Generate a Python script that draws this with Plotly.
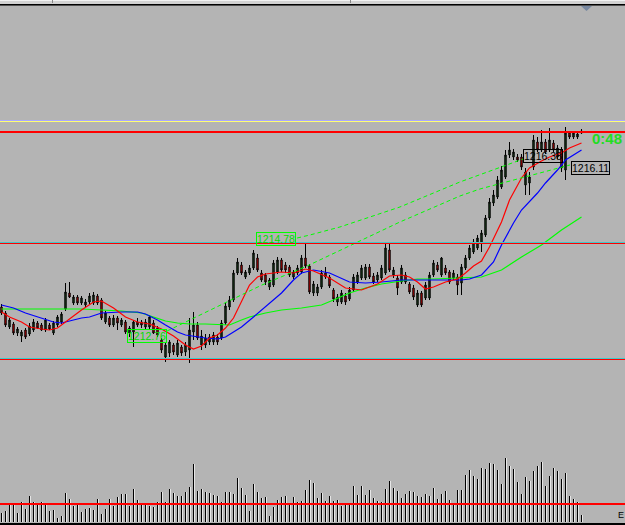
import plotly.graph_objects as go

W, H = 625, 525
BG = '#b4b4b4'

# ---------------- data ----------------
bar_index = list(range(146))

opens = [1213.36, 1213.24, 1212.96, 1213.02, 1212.84, 1212.78, 1212.90, 1212.82, 1212.90, 1213.04,
         1213.00, 1212.90, 1213.00, 1212.84, 1213.00, 1213.06, 1213.32, 1213.64, 1213.44, 1213.56,
         1213.44, 1213.40, 1213.46, 1213.44, 1213.58, 1213.50, 1213.06, 1213.14, 1213.00, 1213.14,
         1213.00, 1213.06, 1212.84, 1212.86, 1213.06, 1213.06, 1212.96, 1212.96, 1213.04, 1212.94,
         1212.70, 1212.36, 1212.44, 1212.60, 1212.40, 1212.56, 1212.46, 1212.50, 1212.86, 1213.00,
         1212.60, 1212.60, 1212.66, 1212.66, 1212.76, 1212.74, 1213.04, 1213.36, 1213.50, 1214.04,
         1214.20, 1213.96, 1214.04, 1214.14, 1214.34, 1214.04, 1214.00, 1213.76, 1213.80, 1214.06,
         1214.30, 1214.20, 1214.16, 1213.96, 1214.04, 1214.06, 1214.34, 1214.18, 1213.64, 1213.64,
         1213.76, 1214.04, 1213.96, 1213.70, 1213.46, 1213.46, 1213.58, 1213.52, 1213.70, 1213.86,
         1213.94, 1213.94, 1214.16, 1213.98, 1213.90, 1213.94, 1214.04, 1214.50, 1214.00, 1213.94,
         1213.86, 1214.00, 1213.82, 1213.74, 1213.40, 1213.64, 1213.54, 1213.54, 1214.00, 1214.20,
         1214.00, 1214.14, 1214.06, 1213.94, 1213.96, 1213.84, 1214.14, 1214.34, 1214.46, 1214.54,
         1214.64, 1214.80, 1215.14, 1215.44, 1215.56, 1215.76, 1215.96, 1216.40, 1216.36, 1216.36,
         1216.36, 1215.80, 1215.84, 1216.16, 1216.66, 1216.50, 1216.66, 1216.50, 1216.64, 1216.36,
         1216.50, 1216.10, 1216.84, 1216.76, 1216.76, 1216.84]

highs = [1213.42, 1213.28, 1213.14, 1213.06, 1212.96, 1212.90, 1212.94, 1213.04, 1213.12, 1213.08,
         1213.04, 1213.14, 1213.04, 1213.08, 1213.20, 1213.26, 1213.84, 1213.86, 1213.60, 1213.60,
         1213.58, 1213.52, 1213.64, 1213.66, 1213.62, 1213.54, 1213.28, 1213.18, 1213.20, 1213.18,
         1213.14, 1213.10, 1212.98, 1213.10, 1213.14, 1213.10, 1213.12, 1213.20, 1213.10, 1212.98,
         1212.74, 1212.64, 1212.70, 1212.64, 1212.70, 1212.60, 1212.66, 1213.14, 1213.26, 1213.06,
         1212.90, 1212.82, 1212.82, 1212.86, 1212.82, 1213.10, 1213.44, 1213.58, 1214.10, 1214.34,
         1214.26, 1214.10, 1214.20, 1214.50, 1214.42, 1214.10, 1214.04, 1213.94, 1214.30, 1214.36,
         1214.34, 1214.26, 1214.20, 1214.10, 1214.20, 1214.40, 1214.64, 1214.22, 1213.88, 1213.82,
         1214.10, 1214.16, 1214.00, 1213.74, 1213.62, 1213.70, 1213.64, 1213.76, 1214.02, 1214.06,
         1214.20, 1214.22, 1214.22, 1214.04, 1214.06, 1214.20, 1214.66, 1214.64, 1214.16, 1214.00,
         1214.20, 1214.06, 1213.86, 1213.80, 1213.70, 1213.68, 1213.86, 1214.06, 1214.30, 1214.26,
         1214.36, 1214.20, 1214.10, 1214.10, 1214.02, 1214.22, 1214.40, 1214.60, 1214.72, 1214.80,
         1214.90, 1215.20, 1215.54, 1215.70, 1215.98, 1216.18, 1216.50, 1216.66, 1216.52, 1216.42,
         1216.42, 1216.14, 1216.06, 1216.80, 1216.76, 1216.90, 1216.72, 1216.94, 1216.70, 1216.60,
         1216.56, 1216.96, 1216.88, 1216.88, 1216.88, 1216.92]

lows = [1213.20, 1212.96, 1212.92, 1212.80, 1212.78, 1212.66, 1212.72, 1212.78, 1212.86, 1212.92,
        1212.88, 1212.86, 1212.90, 1212.80, 1212.96, 1213.02, 1213.28, 1213.54, 1213.40, 1213.40,
        1213.40, 1213.36, 1213.42, 1213.40, 1213.40, 1213.10, 1213.02, 1212.96, 1212.96, 1212.90,
        1212.96, 1212.82, 1212.76, 1212.56, 1212.96, 1212.94, 1212.92, 1212.90, 1212.82, 1212.76,
        1212.44, 1212.26, 1212.36, 1212.40, 1212.36, 1212.38, 1212.38, 1212.24, 1212.70, 1212.70,
        1212.50, 1212.54, 1212.60, 1212.60, 1212.60, 1212.70, 1213.00, 1213.30, 1213.46, 1214.00,
        1214.00, 1213.92, 1214.00, 1214.10, 1214.06, 1213.86, 1213.80, 1213.70, 1213.76, 1214.02,
        1214.06, 1214.04, 1213.96, 1213.92, 1214.00, 1214.02, 1214.14, 1213.62, 1213.58, 1213.58,
        1213.72, 1213.92, 1213.74, 1213.46, 1213.38, 1213.42, 1213.40, 1213.48, 1213.66, 1213.82,
        1213.90, 1213.90, 1213.92, 1213.82, 1213.86, 1213.90, 1214.00, 1214.06, 1213.94, 1213.60,
        1213.82, 1213.82, 1213.62, 1213.50, 1213.36, 1213.36, 1213.50, 1213.50, 1213.96, 1214.06,
        1213.96, 1214.00, 1213.82, 1213.90, 1213.60, 1213.60, 1214.10, 1214.30, 1214.42, 1214.50,
        1214.46, 1214.76, 1215.10, 1215.38, 1215.52, 1215.72, 1215.92, 1216.34, 1216.30, 1216.26,
        1216.10, 1215.60, 1215.60, 1216.10, 1216.46, 1216.46, 1216.42, 1216.46, 1216.46, 1216.32,
        1216.06, 1215.90, 1216.72, 1216.72, 1216.72, 1216.82]

closes = [1213.24, 1213.00, 1213.10, 1212.84, 1212.92, 1212.86, 1212.76, 1212.98, 1213.06, 1212.94,
          1212.90, 1213.10, 1212.92, 1213.04, 1213.16, 1213.22, 1213.66, 1213.56, 1213.56, 1213.44,
          1213.54, 1213.46, 1213.58, 1213.60, 1213.44, 1213.14, 1213.24, 1213.00, 1213.14, 1213.04,
          1213.10, 1212.86, 1212.94, 1213.06, 1213.00, 1213.00, 1213.06, 1213.16, 1212.84, 1212.80,
          1212.50, 1212.60, 1212.66, 1212.46, 1212.64, 1212.44, 1212.60, 1212.90, 1213.00, 1212.74,
          1212.78, 1212.74, 1212.76, 1212.80, 1212.66, 1213.04, 1213.38, 1213.50, 1214.04, 1214.26,
          1214.04, 1214.06, 1214.14, 1214.44, 1214.10, 1213.90, 1213.86, 1213.90, 1214.24, 1214.30,
          1214.10, 1214.10, 1214.00, 1214.06, 1214.14, 1214.34, 1214.18, 1213.66, 1213.82, 1213.76,
          1214.04, 1213.96, 1213.78, 1213.52, 1213.56, 1213.64, 1213.46, 1213.70, 1213.96, 1214.00,
          1214.14, 1214.16, 1213.96, 1213.86, 1214.00, 1214.14, 1214.54, 1214.10, 1214.10, 1213.74,
          1214.14, 1213.86, 1213.66, 1213.56, 1213.64, 1213.40, 1213.80, 1214.00, 1214.24, 1214.10,
          1214.34, 1214.04, 1213.86, 1214.04, 1213.80, 1214.16, 1214.34, 1214.54, 1214.66, 1214.74,
          1214.84, 1215.14, 1215.46, 1215.60, 1215.90, 1216.10, 1216.40, 1216.50, 1216.46, 1216.30,
          1216.16, 1216.06, 1215.96, 1216.70, 1216.50, 1216.66, 1216.46, 1216.70, 1216.50, 1216.54,
          1216.14, 1216.84, 1216.76, 1216.84, 1216.82, 1216.88]

volumes = [19, 23, 39, 36, 19, 41, 27, 53, 40, 36, 40, 36, 23, 24, 9, 13, 59, 47, 33, 35,
           20, 26, 29, 25, 47, 16, 26, 47, 33, 50, 57, 57, 32, 66, 45, 36, 36, 33, 31, 41,
           61, 41, 66, 59, 53, 53, 60, 70, 116, 63, 67, 60, 59, 55, 53, 41, 60, 60, 56, 88,
           69, 55, 22, 77, 60, 48, 50, 13, 30, 45, 51, 53, 36, 51, 41, 43, 64, 84, 79, 49,
           59, 43, 53, 43, 45, 32, 37, 35, 72, 55, 72, 55, 64, 49, 43, 41, 67, 82, 68, 63,
           49, 56, 62, 61, 53, 51, 57, 53, 68, 47, 57, 62, 45, 37, 64, 64, 94, 104, 92, 87,
           109, 107, 119, 117, 105, 77, 129, 113, 107, 80, 57, 91, 82, 103, 113, 121, 73, 92, 109, 103,
           87, 98, 53, 47, 40, 14]

ma_red_x = [0, 2, 5, 7, 10, 12, 14, 16, 18, 20, 23, 25, 28, 31, 34, 37, 40, 43, 46, 48, 50, 52, 54, 56,
            58, 60, 62, 64, 66, 70, 73, 76, 78, 82, 86, 90, 94, 97, 100, 102, 104, 106, 108, 111, 114,
            116, 118, 120, 122, 125, 127, 130, 132, 135, 137, 140, 142, 145]
ma_red = [1213.26, 1213.16, 1213.06, 1212.96, 1212.92, 1212.90, 1212.94, 1213.06, 1213.18, 1213.30,
          1213.46, 1213.48, 1213.34, 1213.16, 1213.06, 1213.02, 1212.92, 1212.78, 1212.60, 1212.52,
          1212.58, 1212.74, 1212.80, 1212.94, 1213.14, 1213.46, 1213.80, 1213.96, 1214.02, 1214.06,
          1214.04, 1214.12, 1214.08, 1213.94, 1213.74, 1213.70, 1213.82, 1213.98, 1214.00, 1213.96,
          1213.86, 1213.72, 1213.76, 1213.86, 1213.92, 1214.04, 1214.18, 1214.28, 1214.56, 1215.06,
          1215.50, 1215.94, 1216.14, 1216.28, 1216.36, 1216.44, 1216.54, 1216.64]

ma_blue_x = [0, 3, 6, 10, 13, 15, 17, 20, 22, 25, 30, 34, 36, 39, 41, 44, 46, 49, 51, 54, 56, 58, 60,
             63, 66, 70, 73, 75, 78, 82, 87, 91, 95, 100, 108, 115, 117, 120, 123, 125, 128, 130, 134,
             136, 139, 141, 145]
ma_blue = [1213.40, 1213.34, 1213.24, 1213.14, 1213.06, 1213.04, 1213.08, 1213.14, 1213.16, 1213.24,
           1213.26, 1213.26, 1213.22, 1213.10, 1213.00, 1212.86, 1212.80, 1212.76, 1212.74, 1212.72,
           1212.76, 1212.86, 1212.96, 1213.16, 1213.36, 1213.64, 1213.90, 1214.04, 1214.10, 1214.04,
           1213.86, 1213.84, 1213.86, 1213.90, 1213.90, 1213.90, 1213.92, 1214.00, 1214.26, 1214.60,
           1215.04, 1215.30, 1215.64, 1215.84, 1216.10, 1216.30, 1216.50]

ma_green_x = [0, 10, 20, 25, 30, 35, 38, 41, 44, 47, 51, 55, 57, 60, 62, 66, 70, 75, 80, 83, 87, 91,
              95, 100, 104, 108, 116, 120, 125, 130, 135, 140, 145]
ma_green = [1213.32, 1213.32, 1213.32, 1213.30, 1213.28, 1213.24, 1213.16, 1213.08, 1213.04, 1213.02,
            1213.02, 1213.00, 1213.00, 1213.10, 1213.16, 1213.24, 1213.30, 1213.34, 1213.40, 1213.50,
            1213.64, 1213.74, 1213.82, 1213.88, 1213.92, 1213.92, 1213.94, 1213.96, 1214.10, 1214.36,
            1214.60, 1214.90, 1215.16]

trend_a_x = [73.9, 77.1, 84.6, 99.6, 114.6, 130.4]
trend_a = [1214.74, 1214.80, 1214.96, 1215.36, 1215.86, 1216.32]
trend_b_x = [41.4, 49.6, 65.1, 76.4, 99.6, 114.6, 119.6, 142.1]
trend_b = [1212.88, 1213.20, 1213.80, 1214.18, 1215.06, 1215.58, 1215.72, 1216.20]

label_texts = ['1214.78', '1212.76', '1216.38', '1216.11']
timer_text = '0:48'

# ---------------- figure ----------------
def px(x):
    return x / W


def py(y):
    return 1 - y / H


fig = go.Figure()

fig.add_trace(go.Scatter(x=ma_green_x, y=ma_green, mode='lines',
                         line=dict(color='#00ff00', width=1.2), hoverinfo='skip'))
fig.add_trace(go.Scatter(x=ma_blue_x, y=ma_blue, mode='lines',
                         line=dict(color='#0000ff', width=1.2), hoverinfo='skip'))
fig.add_trace(go.Scatter(x=ma_red_x, y=ma_red, mode='lines',
                         line=dict(color='#ff0000', width=1.2), hoverinfo='skip'))
fig.add_trace(go.Scatter(x=trend_a_x, y=trend_a, mode='lines',
                         line=dict(color='#00ff00', width=1, dash='4px,3px'), hoverinfo='skip'))
fig.add_trace(go.Scatter(x=trend_b_x, y=trend_b, mode='lines',
                         line=dict(color='#00ff00', width=1, dash='4px,3px'), hoverinfo='skip'))

fig.add_trace(go.Candlestick(
    x=bar_index, open=opens, high=highs, low=lows, close=closes,
    increasing=dict(line=dict(color='#000000', width=1), fillcolor='#1f4a1f'),
    decreasing=dict(line=dict(color='#000000', width=1), fillcolor='#ff0000'),
    whiskerwidth=0, hoverinfo='skip'))

# volume histogram: dark line with a light edge next to it
fig.add_trace(go.Bar(x=bar_index, y=volumes, yaxis='y2', width=0.25, offset=0.0,
                     marker=dict(color='#e6e6e6', line=dict(width=0)), hoverinfo='skip'))
fig.add_trace(go.Bar(x=bar_index, y=volumes, yaxis='y2', width=0.25, offset=-0.125,
                     marker=dict(color='#000000', line=dict(width=0)), hoverinfo='skip'))

fig.update_layout(
    width=W, height=H, margin=dict(l=0, r=0, t=0, b=0),
    paper_bgcolor=BG, plot_bgcolor=BG, showlegend=False,
    boxgap=0.5, bargap=0, barmode='overlay',
    xaxis=dict(range=[-0.375, 155.875], visible=False, fixedrange=True,
               rangeslider=dict(visible=False)),
    yaxis=dict(domain=[85 / H, 1], range=[1210.70, 1219.50], visible=False, fixedrange=True),
    yaxis2=dict(domain=[3 / H, 81 / H], range=[0, 156], visible=False, anchor='x',
                fixedrange=True),
)


def hline(y, color, width=1):
    fig.add_shape(type='line', xref='paper', yref='paper', x0=0, x1=1,
                  y0=py(y), y1=py(y), line=dict(color=color, width=width))


# top frame strip
fig.add_shape(type='rect', xref='paper', yref='paper', x0=0, x1=1, y0=py(4), y1=1,
              fillcolor='#d2d2d2', line=dict(width=0))
hline(0.5, '#f2f2f2')
hline(4.5, '#000000')
hline(5.5, '#505050')
for xv in (52, 350):
    fig.add_shape(type='line', xref='paper', yref='paper', x0=px(xv + 0.5), x1=px(xv + 0.5),
                  y0=py(0), y1=py(3), line=dict(color='#888888', width=1))
# chart shift marker
fig.add_shape(type='path', xref='paper', yref='paper',
              path=f'M {px(581)} {py(6)} L {px(592)} {py(6)} L {px(586.5)} {py(11)} Z',
              fillcolor='#7888a0', line=dict(width=0))

# level lines
hline(120.5, '#a8a8ff')
hline(121.5, '#ffff70')
hline(132, '#ff0000', 2)
hline(242.5, '#40c8c8')
hline(243.5, '#ff0000')
hline(358.5, '#40c8c8')
hline(359.5, '#ff0000')
hline(504, '#ff0000', 2)

# bottom frame
fig.add_shape(type='rect', xref='paper', yref='paper', x0=0, x1=1, y0=0, y1=py(523),
              fillcolor='#000000', line=dict(width=0))

FONT = 'Liberation Sans, Arial, sans-serif'


def label(text, cx, cy, color, border):
    fig.add_annotation(x=px(cx), y=py(cy), xref='paper', yref='paper', text=text,
                       showarrow=False, xanchor='center', yanchor='middle',
                       font=dict(family=FONT, size=10.5, color=color),
                       bordercolor=border, borderwidth=1, borderpad=0)


label(label_texts[0], 276, 238.5, '#00dd00', '#00ff00')
label(label_texts[1], 146.5, 336, '#00dd00', '#00ff00')
label(label_texts[2], 543, 156, '#000000', '#000000')
label(label_texts[3], 590.5, 168, '#000000', '#000000')

fig.add_annotation(x=px(624), y=py(138), xref='paper', yref='paper', text=f'<b>{timer_text}</b>',
                   showarrow=False, xanchor='right', yanchor='middle',
                   font=dict(family=FONT, size=15, color='#22dd22'))
fig.add_annotation(x=px(616), y=py(514.5), xref='paper', yref='paper', text='E',
                   showarrow=False, xanchor='left', yanchor='middle',
                   font=dict(family=FONT, size=9, color='#000000'))

fig.write_html('out.html')
